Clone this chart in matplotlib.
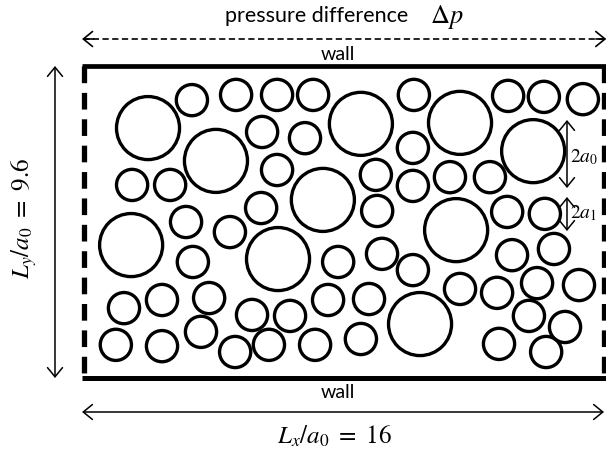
import matplotlib
matplotlib.use('Agg')
import matplotlib.pyplot as plt
from matplotlib.patches import Circle, FancyArrowPatch

plt.rcParams['mathtext.fontset'] = 'stix'
plt.rcParams['lines.scale_dashes'] = False

# ---- data (units of a0) ----
LX, LY = 16, 9.6
A0, A1 = 0.97, 0.48

large_x = [1.97, 4.06, 8.52, 11.57, 13.82, 1.45, 5.97, 7.35, 10.34, 11.45]
large_y = [7.69, 6.68, 7.82, 7.85, 6.98, 4.09, 3.66, 5.48, 1.66, 4.55]

small_x = [3.32, 4.68, 5.94, 7.05, 10.15, 13.05, 14.15, 15.35,
           5.48, 6.80, 10.12,
           1.48, 2.65, 5.94, 8.98, 10.12, 11.26, 12.49,
           3.14, 4.49, 5.45, 9.02, 13.02, 14.18,
           3.35, 7.82, 9.17, 10.12, 13.17, 14.46,
           1.23, 2.40, 3.85, 5.17, 6.34, 7.51, 8.77, 11.57, 12.71, 13.94, 15.23,
           0.98, 2.40, 3.60, 4.65, 5.69, 7.11, 8.52, 13.69, 14.80, 12.77, 14.22]
small_y = [8.55, 8.71, 8.71, 8.71, 8.71, 8.68, 8.65, 8.58,
           7.57, 7.38, 7.08,
           5.94, 5.94, 6.40, 6.25, 5.91, 6.18, 6.18,
           4.80, 4.49, 5.23, 5.14, 5.11, 5.05,
           3.57, 3.57, 3.82, 3.32, 3.78, 3.97,
           2.15, 2.40, 2.46, 1.94, 1.91, 2.40, 2.43, 2.74, 2.62, 2.92, 2.86,
           1.02, 0.98, 1.42, 0.80, 1.02, 1.02, 1.20, 1.91, 1.57, 1.05, 0.80]

title_text = "pressure difference"
wall_text = "wall"
lx_label = r"$L_x/a_0\ =\ 16$"
ly_label = r"$L_y/a_0\ =\ 9.6$"

# ---- figure ----
S = 32.5  # pixels per unit
fig = plt.figure(figsize=(6.06, 4.53), dpi=100)
ax = fig.add_axes([0, 0, 1, 1])
ax.set_xlim(-84 / S, (606 - 84) / S)
ax.set_ylim(-(453 - 378) / S, 378 / S)
ax.axis('off')

for x, y in zip(large_x, large_y):
    ax.add_patch(Circle((x, y), A0, fill=False, ec='black', lw=2.4))
for x, y in zip(small_x, small_y):
    ax.add_patch(Circle((x, y), A1, fill=False, ec='black', lw=2.4))

# walls
ax.plot([-0.05, LX + 0.05], [LY, LY], color='black', lw=3.4, solid_capstyle='butt')
ax.plot([-0.05, LX + 0.05], [0, 0], color='black', lw=3.6, solid_capstyle='butt')
# periodic (dashed) sides
for xs in (0, LX):
    ax.plot([xs, xs], [LY, 0.15], color='black', lw=3.8,
            linestyle=(0, (12, 7)), dash_capstyle='butt')

def arrow(p0, p1, ls='-'):
    a = FancyArrowPatch(p0, p1, arrowstyle='<->,head_length=0.55,head_width=0.45',
                        mutation_scale=12, color='black', lw=1.1, linestyle=ls,
                        shrinkA=0, shrinkB=0)
    ax.add_patch(a)

# top dashed arrow (pressure difference)
ytop = (378 - 39) / S
ax.plot([-0.02, LX + 0.05], [ytop, ytop], color='black', lw=1.2,
        linestyle=(0, (4.5, 2.5)))
for xa, xb in ((0.3, -0.06), (LX - 0.25, LX + 0.07)):
    ax.add_patch(FancyArrowPatch((xa, ytop), (xb, ytop),
                                 arrowstyle='->,head_length=0.55,head_width=0.45',
                                 mutation_scale=12, color='black', lw=1.2,
                                 shrinkA=0, shrinkB=0))

ax.text(7.15, (378 - 16) / S, title_text, fontsize=15.5, family='Lato',
        ha='center', va='center')
ax.text(11.15, (378 - 17) / S, r"$\Delta p$", fontsize=19, ha='center', va='center')

ax.text(7.8, (378 - 54) / S, wall_text, fontsize=14, family='Lato',
        ha='center', va='center')
ax.text(7.8, (378 - 392) / S, wall_text, fontsize=14, family='Lato',
        ha='center', va='center')

# bottom arrow Lx
ybot = (378 - 412) / S
arrow((-0.06, ybot), (LX + 0.0, ybot))
ax.text(7.72, (378 - 436) / S, lx_label, fontsize=18, ha='center', va='center')

# left arrow Ly
xl = (55 - 84) / S
arrow((xl, 0), (xl, LY))
ax.text((24 - 84) / S, (378 - 218) / S, ly_label, fontsize=18, ha='center',
        va='center', rotation=90)

# 2a0 and 2a1 markers
xr = (567 - 84) / S
arrow((xr, (378 - 188) / S), (xr, (378 - 120) / S))
arrow((xr, (378 - 231) / S), (xr, (378 - 197) / S))
ax.text(xr + 0.08, (378 - 157) / S, r"$2a_0$", fontsize=14, ha='left', va='center')
ax.text(xr + 0.08, (378 - 213) / S, r"$2a_1$", fontsize=14, ha='left', va='center')

fig.savefig('out.png', dpi=100)
